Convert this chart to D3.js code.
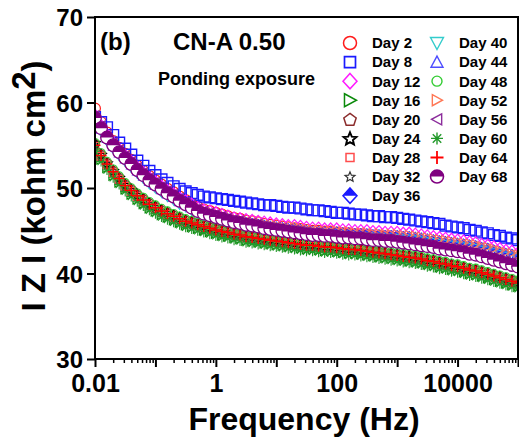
<!DOCTYPE html>
<html><head><meta charset="utf-8">
<script src="https://cdn.jsdelivr.net/npm/d3@7/dist/d3.min.js"></script>
<style>
body{margin:0;background:#fff;}
svg{display:block;font-family:"Liberation Sans",Arial,Helvetica,sans-serif;font-weight:bold;}
</style>
</head><body>
<svg id="chart" width="519" height="445"></svg>
<script>
// ---------- DATA ----------
const freq = [0.01,0.0126,0.0158,0.02,0.0251,0.0316,0.0398,0.0501,0.0631,0.0794,
0.1,0.126,0.158,0.2,0.251,0.316,0.398,0.501,0.631,0.794,
1,1.26,1.58,2,2.51,3.16,3.98,5.01,6.31,7.94,
10,12.6,15.8,20,25.1,31.6,39.8,50.1,63.1,79.4,
100,126,158,200,251,316,398,501,631,794,
1000,1260,1580,2000,2510,3160,3980,5010,6310,7940,
10000,12600,15800,20000,25100,31600,39800,50100,63100,79400,
100000];

const day2 = [59.3,57.7,56.5,55.5,54.7,54.0,53.3,52.6,52.0,51.4,
50.9,50.4,49.9,49.5,49.0,48.6,48.2,47.8,47.5,47.3,
47.1,46.9,46.7,46.5,46.4,46.2,46.1,46.0,45.8,45.7,
45.6,45.5,45.4,45.3,45.2,45.1,45.0,45.0,44.9,44.9,
44.8,44.7,44.7,44.6,44.6,44.5,44.4,44.4,44.3,44.3,
44.2,44.1,44.0,43.9,43.8,43.7,43.6,43.4,43.3,43.2,
43.1,43.0,42.8,42.7,42.5,42.3,42.1,41.9,41.7,41.5,
41.3];
const day8 = [58.3,57.7,57.1,56.2,55.3,54.6,53.9,53.2,52.6,52.0,
51.5,51.0,50.6,50.2,49.9,49.6,49.4,49.2,49.0,48.9,
48.8,48.7,48.6,48.5,48.4,48.3,48.2,48.1,48.0,48.0,
47.9,47.8,47.7,47.7,47.6,47.5,47.4,47.4,47.3,47.2,
47.1,47.1,47.0,46.9,46.9,46.8,46.7,46.7,46.6,46.6,
46.5,46.4,46.3,46.2,46.1,46.0,45.9,45.8,45.6,45.5,
45.4,45.3,45.1,45.0,44.8,44.7,44.5,44.4,44.2,44.1,
43.9];
const day12 = [58.5,57.3,56.2,55.3,54.5,53.8,53.1,52.4,51.8,51.2,
50.7,50.2,49.7,49.3,48.8,48.5,48.1,47.7,47.4,47.3,
47.1,46.9,46.7,46.5,46.4,46.3,46.2,46.1,46.0,45.9,
45.8,45.7,45.6,45.6,45.5,45.4,45.3,45.3,45.2,45.2,
45.2,45.1,45.1,45.0,45.0,45.0,44.9,44.9,44.8,44.8,
44.8,44.7,44.7,44.6,44.5,44.4,44.3,44.2,44.1,44.0,
43.9,43.8,43.7,43.6,43.4,43.3,43.1,42.9,42.7,42.6,
42.4];
const day16 = [54.6,53.4,52.4,51.5,50.7,49.9,49.3,48.7,48.2,47.7,
47.3,46.9,46.6,46.3,46.0,45.7,45.5,45.3,45.1,44.9,
44.7,44.5,44.4,44.2,44.1,43.9,43.8,43.7,43.6,43.5,
43.4,43.3,43.2,43.1,43.0,42.9,42.9,42.8,42.7,42.7,
42.6,42.5,42.4,42.4,42.3,42.2,42.1,42.0,41.9,41.8,
41.7,41.6,41.5,41.4,41.3,41.1,41.0,40.8,40.7,40.5,
40.4,40.2,40.0,39.9,39.7,39.5,39.3,39.1,38.9,38.7,
38.5];
const day20 = [55.2,54.0,53.0,52.1,51.3,50.5,49.9,49.3,48.8,48.3,
47.9,47.5,47.2,46.9,46.6,46.3,46.1,45.9,45.7,45.5,
45.3,45.1,45.0,44.8,44.7,44.5,44.4,44.3,44.2,44.1,
44.0,43.9,43.8,43.7,43.6,43.5,43.5,43.4,43.3,43.3,
43.2,43.1,43.0,43.0,42.9,42.8,42.7,42.6,42.5,42.4,
42.3,42.2,42.1,42.0,41.9,41.7,41.6,41.4,41.3,41.1,
41.0,40.8,40.6,40.5,40.3,40.1,39.9,39.7,39.5,39.3,
39.1];
const day24 = [55.3,53.9,52.9,52.0,51.2,50.4,49.8,49.2,48.7,48.2,
47.8,47.4,47.1,46.8,46.5,46.2,46.0,45.8,45.6,45.4,
45.2,45.0,44.9,44.7,44.6,44.4,44.3,44.2,44.1,44.0,
43.9,43.8,43.7,43.6,43.5,43.4,43.4,43.3,43.2,43.2,
43.1,43.0,42.9,42.9,42.8,42.7,42.6,42.5,42.4,42.3,
42.2,42.1,42.0,41.9,41.8,41.6,41.5,41.3,41.2,41.0,
40.9,40.7,40.5,40.4,40.2,40.0,39.8,39.6,39.4,39.2,
39.0];
const day28 = [54.9,53.7,52.7,51.8,51.0,50.2,49.6,49.0,48.5,48.0,
47.6,47.2,46.9,46.6,46.3,46.0,45.8,45.6,45.4,45.2,
45.0,44.8,44.7,44.5,44.4,44.2,44.1,44.0,43.9,43.8,
43.7,43.6,43.5,43.4,43.3,43.2,43.2,43.1,43.0,43.0,
42.9,42.8,42.7,42.7,42.6,42.5,42.4,42.3,42.2,42.1,
42.0,41.9,41.8,41.7,41.6,41.4,41.3,41.1,41.0,40.8,
40.7,40.5,40.3,40.2,40.0,39.8,39.6,39.4,39.2,39.0,
38.8];
const day32 = [54.8,53.6,52.6,51.7,50.9,50.1,49.5,48.9,48.4,47.9,
47.5,47.1,46.8,46.5,46.2,45.9,45.7,45.5,45.3,45.1,
44.9,44.7,44.6,44.4,44.3,44.1,44.0,43.9,43.8,43.7,
43.6,43.5,43.4,43.3,43.2,43.1,43.1,43.0,42.9,42.9,
42.8,42.7,42.6,42.6,42.5,42.4,42.3,42.2,42.1,42.0,
41.9,41.8,41.7,41.6,41.5,41.3,41.2,41.0,40.9,40.7,
40.6,40.4,40.2,40.1,39.9,39.7,39.5,39.3,39.1,38.9,
38.7];
const day36 = [58.0,56.8,55.7,54.8,54.0,53.3,52.6,51.9,51.3,50.7,
50.2,49.7,49.2,48.8,48.3,48.0,47.6,47.2,46.9,46.8,
46.6,46.4,46.2,46.0,45.9,45.8,45.7,45.6,45.5,45.4,
45.3,45.2,45.1,45.1,45.0,44.9,44.8,44.8,44.7,44.7,
44.7,44.6,44.6,44.5,44.5,44.5,44.4,44.4,44.3,44.3,
44.3,44.2,44.2,44.1,44.0,43.9,43.8,43.7,43.6,43.5,
43.4,43.3,43.2,43.1,42.9,42.8,42.6,42.4,42.2,42.1,
41.9];
const day40 = [57.8,56.6,55.5,54.6,53.8,53.1,52.4,51.7,51.1,50.5,
50.0,49.5,49.0,48.6,48.1,47.8,47.4,47.0,46.7,46.6,
46.4,46.2,46.0,45.8,45.7,45.6,45.5,45.4,45.3,45.2,
45.1,45.0,44.9,44.9,44.8,44.7,44.6,44.6,44.5,44.5,
44.5,44.4,44.4,44.3,44.3,44.3,44.2,44.2,44.1,44.1,
44.1,44.0,44.0,43.9,43.8,43.7,43.6,43.5,43.4,43.3,
43.2,43.1,43.0,42.9,42.7,42.6,42.4,42.2,42.0,41.9,
41.7];
const day44 = [58.1,56.9,55.8,54.9,54.1,53.4,52.7,52.0,51.4,50.8,
50.3,49.8,49.3,48.9,48.4,48.1,47.7,47.3,47.0,46.9,
46.7,46.5,46.3,46.1,46.0,45.9,45.8,45.7,45.6,45.5,
45.4,45.3,45.2,45.2,45.1,45.0,44.9,44.9,44.8,44.8,
44.8,44.7,44.7,44.6,44.6,44.6,44.5,44.5,44.4,44.4,
44.4,44.3,44.3,44.2,44.1,44.0,43.9,43.8,43.7,43.6,
43.5,43.4,43.3,43.2,43.0,42.9,42.7,42.5,42.3,42.2,
42.0];
const day48 = [55.3,54.1,53.1,52.2,51.4,50.6,50.0,49.4,48.9,48.4,
48.0,47.6,47.3,47.0,46.7,46.4,46.2,46.0,45.8,45.6,
45.4,45.2,45.1,44.9,44.8,44.6,44.5,44.4,44.3,44.2,
44.1,44.0,43.9,43.8,43.7,43.6,43.6,43.5,43.4,43.4,
43.3,43.2,43.1,43.1,43.0,42.9,42.8,42.7,42.6,42.5,
42.4,42.3,42.2,42.1,42.0,41.8,41.7,41.5,41.4,41.2,
41.1,40.9,40.7,40.6,40.4,40.2,40.0,39.8,39.6,39.4,
39.2];
const day52 = [58.3,57.1,56.0,55.1,54.3,53.6,52.9,52.2,51.6,51.0,
50.5,50.0,49.5,49.1,48.6,48.3,47.9,47.5,47.2,47.1,
46.9,46.7,46.5,46.3,46.2,46.1,46.0,45.9,45.8,45.7,
45.6,45.5,45.4,45.4,45.3,45.2,45.1,45.1,45.0,45.0,
45.0,44.9,44.9,44.8,44.8,44.8,44.7,44.7,44.6,44.6,
44.6,44.5,44.5,44.4,44.3,44.2,44.1,44.0,43.9,43.8,
43.7,43.6,43.5,43.4,43.2,43.1,42.9,42.7,42.5,42.4,
42.2];
const day56 = [58.5,57.3,56.2,55.3,54.5,53.8,53.1,52.4,51.8,51.2,
50.7,50.2,49.7,49.3,48.8,48.4,48.0,47.6,47.3,47.1,
46.9,46.7,46.5,46.3,46.2,46.0,45.9,45.8,45.6,45.5,
45.4,45.3,45.2,45.1,45.0,44.9,44.8,44.8,44.7,44.7,
44.6,44.5,44.5,44.4,44.4,44.3,44.2,44.2,44.1,44.1,
44.0,43.9,43.8,43.7,43.6,43.5,43.4,43.2,43.1,43.0,
42.9,42.8,42.6,42.5,42.3,42.1,41.9,41.7,41.5,41.3,
41.1];
const day60 = [54.3,53.1,52.1,51.2,50.4,49.6,49.0,48.4,47.9,47.4,
47.0,46.6,46.3,46.0,45.7,45.4,45.2,45.0,44.8,44.6,
44.4,44.2,44.1,43.9,43.8,43.6,43.5,43.4,43.3,43.2,
43.1,43.0,42.9,42.8,42.7,42.6,42.6,42.5,42.4,42.4,
42.3,42.2,42.1,42.1,42.0,41.9,41.8,41.7,41.6,41.5,
41.4,41.3,41.2,41.1,41.0,40.8,40.7,40.5,40.4,40.2,
40.1,39.9,39.7,39.6,39.4,39.2,39.0,38.8,38.6,38.4,
38.2];
const day64 = [55.0,53.8,52.8,51.9,51.1,50.3,49.7,49.1,48.6,48.1,
47.7,47.3,47.0,46.7,46.4,46.1,45.9,45.7,45.5,45.3,
45.1,44.9,44.8,44.6,44.5,44.3,44.2,44.1,44.0,43.9,
43.8,43.7,43.6,43.5,43.4,43.3,43.3,43.2,43.1,43.1,
43.0,42.9,42.8,42.8,42.7,42.6,42.5,42.4,42.3,42.2,
42.1,42.0,41.9,41.8,41.7,41.5,41.4,41.2,41.1,40.9,
40.8,40.6,40.4,40.3,40.1,39.9,39.7,39.5,39.3,39.1,
38.9];
const day68 = [58.2,57.0,55.9,55.0,54.2,53.5,52.8,52.1,51.5,50.9,
50.4,49.9,49.4,49.0,48.5,48.1,47.7,47.3,47.0,46.8,
46.6,46.4,46.2,46.0,45.9,45.7,45.6,45.5,45.3,45.2,
45.1,45.0,44.9,44.8,44.7,44.6,44.5,44.5,44.4,44.4,
44.3,44.2,44.2,44.1,44.1,44.0,43.9,43.9,43.8,43.8,
43.7,43.6,43.5,43.4,43.3,43.2,43.1,42.9,42.8,42.7,
42.6,42.5,42.3,42.2,42.0,41.8,41.6,41.4,41.2,41.0,
40.8];

const seriesNames = ["Day 2","Day 8","Day 12","Day 16","Day 20","Day 24","Day 28","Day 32","Day 36",
                     "Day 40","Day 44","Day 48","Day 52","Day 56","Day 60","Day 64","Day 68"];
const seriesValues = [day2,day8,day12,day16,day20,day24,day28,day32,day36,
                      day40,day44,day48,day52,day56,day60,day64,day68];
const yTickValues = [30,40,50,60,70];
const xTickLabels = ["0.01","1","100","10000"];

// ---------- STYLES ----------
const styles = [
  {shape:"circle",   color:"#ff1a1a", r:5.4, lr:6.5, sw:1.2},
  {shape:"square",   color:"#1a1aff", r:5.4, lr:5.5, sw:1.4},
  {shape:"diamond",  color:"#ff1aff", r:5.5, lr:7.0, sw:1.2},
  {shape:"triR",     color:"#0a8a0a", r:5.0, lr:6.5, sw:1.2},
  {shape:"pentagon", color:"#8b2c2c", r:5.0, lr:6.5, sw:1.2},
  {shape:"star",     color:"#000000", r:5.0, lr:6.8, sw:1.6},
  {shape:"square",   color:"#ff4d4d", r:3.8, lr:4.0, sw:1.2},
  {shape:"star",     color:"#333333", r:4.2, lr:5.2, sw:0.9},
  {shape:"halfDiamond", color:"#1a1aff", r:5.5, lr:7.0, sw:1.2},
  {shape:"triD",     color:"#33cccc", r:5.0, lr:6.5, sw:1.1},
  {shape:"triU",     color:"#4d4dff", r:4.8, lr:6.0, sw:1.1},
  {shape:"circle",   color:"#33cc33", r:4.2, lr:5.0, sw:1.1},
  {shape:"triR",     color:"#ff7755", r:4.6, lr:5.5, sw:1.1},
  {shape:"triL",     color:"#8c2d9c", r:4.6, lr:5.5, sw:1.1},
  {shape:"asterisk", color:"#22992a", r:5.0, lr:6.0, sw:1.1},
  {shape:"plus",     color:"#ff0000", r:5.5, lr:6.5, sw:1.5},
  {shape:"halfCircle", color:"#800080", r:6.3, lr:6.5, sw:1.3}
];

// ---------- SETUP ----------
const W = 519, H = 445;
const M = {left:95, right:518, top:17, bottom:359};
const svg = d3.select("#chart");
svg.append("rect").attr("width",W).attr("height",H).attr("fill","#fff");

const x = d3.scaleLog().domain([0.01, 100000]).range([M.left, M.right]);
const y = d3.scaleLinear().domain([30, 70]).range([M.bottom, M.top]);

function poly(pts){ return "M" + pts.map(p => p[0].toFixed(2)+","+p[1].toFixed(2)).join("L") + "Z"; }
function circlePath(r){ return `M${-r},0A${r},${r} 0 1,0 ${r},0A${r},${r} 0 1,0 ${-r},0Z`; }

function drawSymbol(g, st, r){
  const c = st.color, sw = st.sw;
  const add = (d, fill) => g.append("path").attr("d", d).attr("fill", fill || "none")
      .attr("stroke", c).attr("stroke-width", sw).attr("stroke-linejoin","miter");
  switch(st.shape){
    case "circle": add(circlePath(r)); break;
    case "square": add(poly([[-r,-r],[r,-r],[r,r],[-r,r]])); break;
    case "diamond": add(poly([[0,-r*1.1],[r,0],[0,r*1.1],[-r,0]])); break;
    case "triR": add(poly([[-r*0.85,-r],[r,0],[-r*0.85,r]])); break;
    case "triL": add(poly([[r*0.85,-r],[-r,0],[r*0.85,r]])); break;
    case "triU": add(poly([[0,-r],[r,r*0.85],[-r,r*0.85]])); break;
    case "triD": add(poly([[0,r],[r,-r*0.85],[-r,-r*0.85]])); break;
    case "pentagon": {
      const p = d3.range(5).map(i => { const a = -Math.PI/2 + i*2*Math.PI/5; return [r*Math.cos(a), r*Math.sin(a)+r*0.1]; });
      add(poly(p)); break;
    }
    case "star": {
      const p = d3.range(10).map(i => { const a = -Math.PI/2 + i*Math.PI/5; const rr = i%2 ? r*0.45 : r; return [rr*Math.cos(a), rr*Math.sin(a)+r*0.1]; });
      add(poly(p)); break;
    }
    case "asterisk": {
      let d = "";
      for (let i=0;i<4;i++){ const a = i*Math.PI/4; d += `M${(-r*Math.cos(a)).toFixed(2)},${(-r*Math.sin(a)).toFixed(2)}L${(r*Math.cos(a)).toFixed(2)},${(r*Math.sin(a)).toFixed(2)}`; }
      add(d); break;
    }
    case "plus": add(`M${-r},0L${r},0M0,${-r}L0,${r}`); break;
    case "halfCircle": {
      g.append("path").attr("d", circlePath(r)).attr("fill","#fff").attr("stroke","none");
      g.append("path").attr("d", `M${-r},0A${r},${r} 0 0,1 ${r},0Z`).attr("fill", c).attr("stroke","none");
      add(circlePath(r));
      break;
    }
    case "halfDiamond": {
      const rr = r*1.1;
      g.append("path").attr("d", poly([[0,-rr],[r,0],[0,rr],[-r,0]])).attr("fill","#fff").attr("stroke","none");
      g.append("path").attr("d", poly([[0,-rr],[r,0],[-r,0]])).attr("fill", c).attr("stroke","none");
      add(poly([[0,-rr],[r,0],[0,rr],[-r,0]]));
      break;
    }
  }
}

// ---------- PLOT ----------
svg.append("clipPath").attr("id","clip").append("rect")
  .attr("x", M.left).attr("y", M.top).attr("width", M.right-M.left).attr("height", M.bottom-M.top);
const plot = svg.append("g").attr("clip-path","url(#clip)");

seriesValues.forEach((vals, si) => {
  const st = styles[si];
  const sg = plot.append("g").attr("class","series");
  vals.forEach((v, i) => {
    const g = sg.append("g").attr("transform", `translate(${x(freq[i]).toFixed(2)},${y(v).toFixed(2)})`);
    drawSymbol(g, st, st.r);
  });
});

// ---------- AXES ----------
const allTicks = x.ticks();
const majors = allTicks.filter(t => Math.abs(Math.log10(t) - Math.round(Math.log10(t))) < 1e-6);
const minors = allTicks.filter(t => !majors.includes(t));

const fmtX = t => { const s = xTickLabels.find(l => Math.abs(+l - t) < 1e-9); return s || ""; };

const xMajor = svg.append("g").attr("transform", `translate(0,${M.bottom})`)
  .call(d3.axisBottom(x).tickValues(majors).tickSize(8).tickPadding(7).tickFormat(fmtX));
const xMinor = svg.append("g").attr("transform", `translate(0,${M.bottom})`)
  .call(d3.axisBottom(x).tickValues(minors).tickSize(4).tickFormat(""));
const yAxis = svg.append("g").attr("transform", `translate(${M.left},0)`)
  .call(d3.axisLeft(y).tickValues(yTickValues).tickSize(8).tickPadding(4).tickFormat(d3.format("d")));

[xMajor, xMinor, yAxis].forEach(g => {
  g.select(".domain").remove();
  g.selectAll("line").attr("stroke","#000").attr("stroke-width",2);
  g.selectAll("text").attr("font-family",'"Liberation Sans",Arial,sans-serif')
    .attr("font-weight","bold").attr("font-size",25).attr("fill","#000");
});
xMinor.selectAll("line").attr("stroke-width",1.5);
yAxis.selectAll("text").attr("font-size",24).attr("dy","0.36em");

// frame
svg.append("rect").attr("x", M.left).attr("y", M.top)
  .attr("width", M.right - M.left).attr("height", M.bottom - M.top)
  .attr("fill","none").attr("stroke","#000").attr("stroke-width",2);

// ---------- TITLES ----------
svg.append("text").attr("x", 304).attr("y", 430).attr("text-anchor","middle")
  .attr("font-size", 32).text("Frequency (Hz)");

const yl = svg.append("text").attr("transform","translate(45,186) rotate(-90)")
  .attr("text-anchor","middle").attr("font-size",33);
yl.append("tspan").text("I Z I (kohm cm");
yl.append("tspan").attr("dy",-10).text("2");
yl.append("tspan").attr("dy",10).text(")");

svg.append("text").attr("x",100).attr("y",50).attr("font-size",24).text("(b)");
svg.append("text").attr("x",173).attr("y",50).attr("font-size",24).text("CN-A 0.50");
svg.append("text").attr("x",158).attr("y",85).attr("font-size",18).text("Ponding exposure");

// ---------- LEGEND ----------
const leg = svg.append("g");
seriesNames.forEach((name, i) => {
  const col = i < 9 ? 0 : 1;
  const row = i < 9 ? i : i - 9;
  const sx = col === 0 ? 350 : 437;
  const tx = col === 0 ? 372 : 459;
  const cy = 43 + row * 19.08;
  const g = leg.append("g").attr("transform", `translate(${sx},${cy})`);
  const st = Object.assign({}, styles[i], {sw: styles[i].sw + 0.3});
  drawSymbol(g, st, styles[i].lr);
  leg.append("text").attr("x", tx).attr("y", cy).attr("dy","0.36em")
    .attr("font-size",15).text(name);
});
</script>
</body></html>
